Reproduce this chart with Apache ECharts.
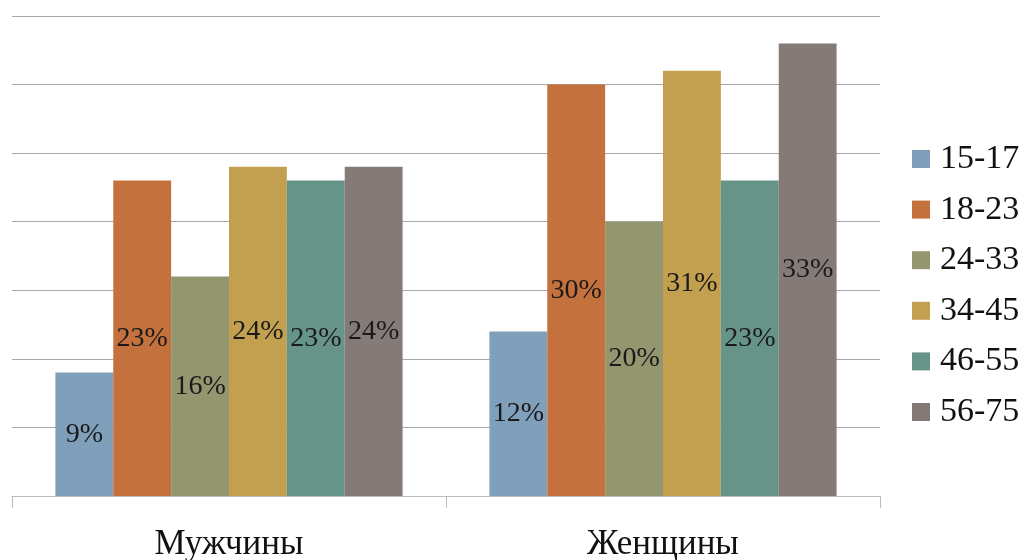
<!DOCTYPE html>
<html>
<head>
<meta charset="utf-8">
<script src="https://cdn.jsdelivr.net/npm/echarts@6/dist/echarts.min.js"></script>
<style>
  html, body { margin: 0; padding: 0; background: #fff; }
  #chart { width: 1030px; height: 560px; }
</style>
</head>
<body>
<div id="chart"></div>
<script>
// Respondent groups and age bands
const categories = ['Мужчины', 'Женщины'];
const ageBands = ['15-17', '18-23', '24-33', '34-45', '46-55', '56-75'];

// Share of each age band, percent, per group
const values1517 = [9, 12];
const values1823 = [23, 30];
const values2433 = [16, 20];
const values3445 = [24, 31];
const values4655 = [23, 23];
const values5675 = [24, 33];

const bandColors = ['#809fba', '#c4713d', '#949670', '#c3a04f', '#679488', '#847b79'];

const seriesValues = [values1517, values1823, values2433, values3445, values4655, values5675];

const serif = '"Liberation Serif", "DejaVu Serif", serif';

const chart = echarts.init(document.getElementById('chart'));
chart.setOption({
  animation: false,
  backgroundColor: '#ffffff',
  grid: { left: 12, right: 150, top: 16, bottom: 64, containLabel: false, outerBoundsMode: 'none' },
  legend: {
    orient: 'vertical',
    left: 907,
    top: 137,
    itemWidth: 18,
    itemHeight: 18,
    itemGap: 16.6,
    icon: 'rect',
    textStyle: {
      fontFamily: serif,
      fontSize: 34,
      color: '#111',
      padding: [0, 0, 0, 5]
    },
    data: ageBands
  },
  xAxis: {
    type: 'category',
    data: categories,
    axisLine: { show: true, lineStyle: { color: '#bdbdbd', width: 1 } },
    axisTick: { show: true, length: 12, lineStyle: { color: '#bdbdbd' } },
    axisLabel: { fontFamily: serif, fontSize: 35, color: '#111', margin: 31 }
  },
  yAxis: {
    type: 'value',
    min: 0,
    max: 35,
    interval: 5,
    axisLine: { show: false },
    axisTick: { show: false },
    axisLabel: { show: false },
    splitLine: { show: true, lineStyle: { color: '#a8a8a8', width: 1 } }
  },
  series: ageBands.map((name, i) => ({
    name: name,
    type: 'bar',
    data: seriesValues[i],
    barGap: '0%',
    barCategoryGap: '20%',
    itemStyle: { color: bandColors[i] },
    label: {
      show: true,
      position: 'inside',
      formatter: '{c}%',
      fontFamily: serif,
      fontSize: 28,
      color: '#1a1a1a'
    }
  }))
});
</script>
</body>
</html>
